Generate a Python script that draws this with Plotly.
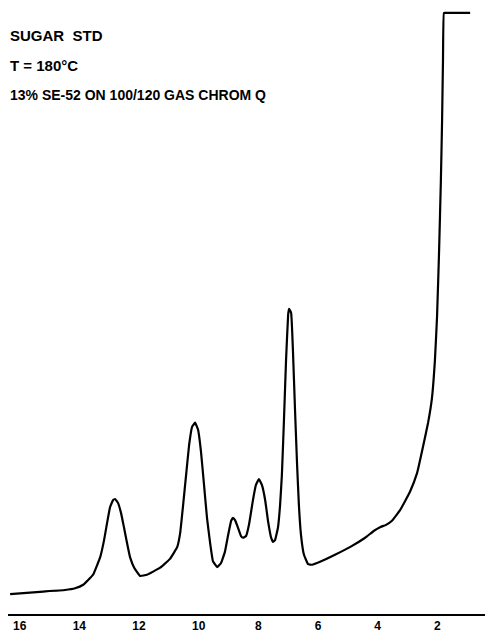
import plotly.graph_objects as go

# Retention time (minutes) and detector response (arbitrary units, % of full scale)
time_min = [16.32, 15.32, 14.48, 14.14, 13.87, 13.54, 13.30, 13.17, 13.07, 12.97,
            12.87, 12.80, 12.70, 12.60, 12.50, 12.40, 12.30, 12.16, 11.96, 11.73,
            11.29, 10.96, 10.72, 10.62, 10.52, 10.42, 10.32, 10.22, 10.12, 10.02,
            9.92, 9.82, 9.72, 9.62, 9.52, 9.38, 9.25, 9.12, 9.01, 8.91,
            8.85, 8.78, 8.68, 8.58, 8.51, 8.41, 8.31, 8.18, 8.08, 7.98,
            7.88, 7.77, 7.67, 7.57, 7.51, 7.44, 7.34, 7.27, 7.21, 7.14,
            7.07, 7.00, 6.97, 6.90, 6.84, 6.77, 6.70, 6.64, 6.57, 6.47,
            6.33, 6.20, 5.93, 5.43, 4.93, 4.42, 4.12, 3.92, 3.72, 3.52,
            3.25, 2.92, 2.68, 2.48, 2.31, 2.18, 2.08, 2.01, 1.94, 1.88,
            1.84, 1.81, 1.78, 1.74, 0.90]
response = [1.0, 1.4, 1.7, 2.0, 2.6, 4.3, 7.3, 10.2, 13.1, 15.8,
            17.0, 17.2, 16.5, 14.8, 12.3, 9.7, 7.3, 5.5, 4.1, 4.3,
            5.5, 7.0, 9.0, 11.4, 16.2, 21.3, 26.4, 29.5, 30.2, 29.0,
            25.2, 19.6, 14.0, 9.9, 6.6, 5.6, 6.3, 8.2, 11.1, 13.5,
            14.0, 13.6, 12.3, 10.9, 10.6, 10.9, 12.9, 17.0, 19.6, 20.6,
            19.6, 17.0, 13.3, 10.6, 9.9, 10.2, 12.4, 16.2, 21.3, 30.7,
            40.9, 48.6, 49.6, 48.9, 42.6, 32.4, 23.0, 16.2, 11.1, 7.7,
            6.1, 6.0, 6.5, 7.7, 9.0, 10.6, 11.8, 12.4, 12.8, 13.5,
            15.3, 18.4, 21.6, 26.1, 30.2, 34.4, 40.9, 48.2, 59.6, 71.6,
            81.8, 92.0, 100.0, 100.0, 100.0]

tick_vals = [16, 14, 12, 10, 8, 6, 4, 2]
tick_text = ["16", "14", "12", "10", "8", "6", "4", "2"]

title_lines = ["SUGAR  STD", "T = 180°C", "13% SE-52 ON 100/120 GAS CHROM Q"]
title_sizes = [15, 15, 14]

fig = go.Figure()
fig.add_trace(go.Scatter(
    x=time_min, y=response, mode="lines",
    line=dict(color="black", width=2.2, shape="spline", smoothing=0.3),
    hoverinfo="skip", showlegend=False,
))

for i, txt in enumerate(title_lines):
    fig.add_annotation(
        text="<b>" + txt + "</b>", xref="paper", yref="paper",
        x=0.0, y=1 - (35 + 30 * i) / 614, xanchor="left", yanchor="middle",
        showarrow=False,
        font=dict(family="Liberation Sans, Arial, sans-serif", size=title_sizes[i], color="black"),
    )

fig.update_layout(
    width=485, height=636,
    margin=dict(l=8, r=0, t=0, b=22),
    paper_bgcolor="white", plot_bgcolor="white",
    xaxis=dict(
        range=[16.39, 0.402], tickvals=tick_vals, ticktext=["<b>" + t + "</b>" for t in tick_text],
        showgrid=False, zeroline=False, showline=True, linecolor="black", linewidth=2,
        ticks="", ticklen=0,
        tickfont=dict(family="Liberation Sans, Arial, sans-serif", size=12, color="black"),
    ),
    yaxis=dict(
        range=[-2.385, 102.2], showgrid=False, zeroline=False, showline=False,
        showticklabels=False, ticks="",
    ),
)

fig.write_html("out.html")
